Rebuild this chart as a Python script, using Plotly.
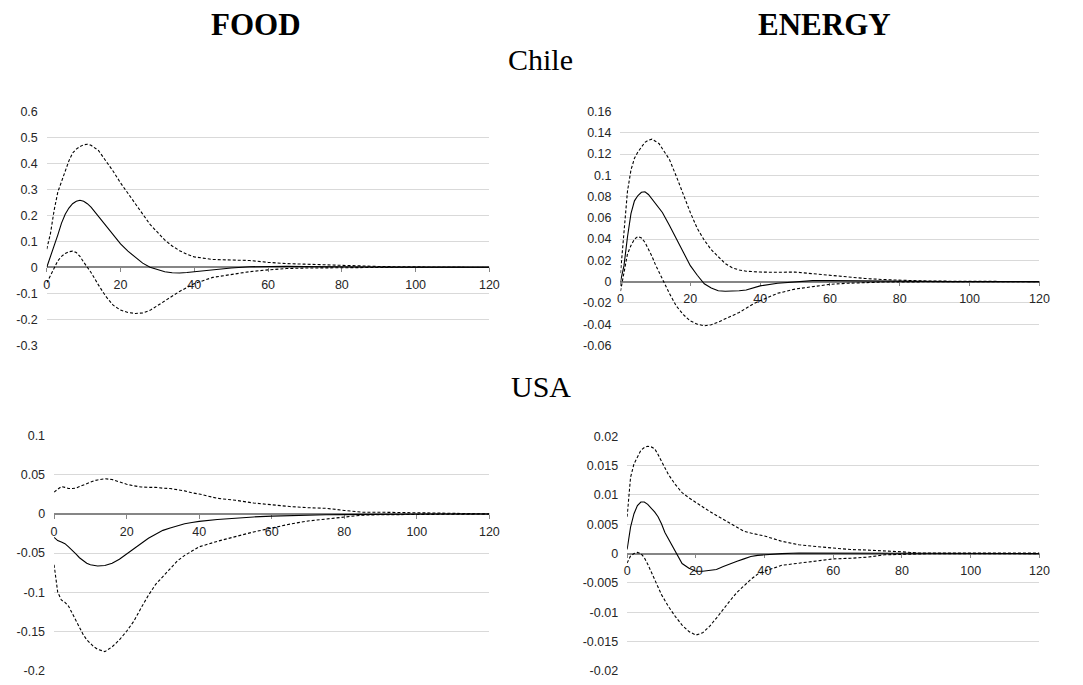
import plotly.graph_objects as go

# Horizon (periods after the shock)
periods = list(range(0, 13)) + list(range(14, 41, 2)) + list(range(45, 121, 5))

# Chile – food price shock: response, upper and lower bands
chile_food_mid = [0, 0.04, 0.084, 0.125, 0.17, 0.204, 0.228, 0.245, 0.254, 0.258, 0.254, 0.245, 0.232,
                  0.197, 0.16, 0.124, 0.09, 0.062, 0.038, 0.016, 0.0, -0.01, -0.017, -0.021, -0.022, -0.02, -0.017,
                  -0.01, -0.003, 0.002, 0.004, 0.004, 0.003, 0.002, 0.001, 0.0008, 0.0005, 0.0003, 0, 0, 0, 0, 0]
chile_food_hi = [0.07, 0.13, 0.22, 0.29, 0.33, 0.37, 0.41, 0.44, 0.455, 0.465, 0.472, 0.474, 0.47,
                 0.45, 0.41, 0.37, 0.325, 0.286, 0.245, 0.205, 0.165, 0.135, 0.105, 0.082, 0.064, 0.05, 0.04,
                 0.03, 0.028, 0.026, 0.019, 0.014, 0.012, 0.009, 0.007, 0.005, 0.003, 0.002, 0.001, 0.0008, 0.0005, 0.0002, 0]
chile_food_lo = [-0.06, -0.03, 0.0, 0.025, 0.042, 0.053, 0.06, 0.062, 0.057, 0.042, 0.02, 0.0, -0.02,
                 -0.068, -0.112, -0.146, -0.165, -0.174, -0.178, -0.176, -0.166, -0.148, -0.13, -0.11, -0.093, -0.078, -0.063,
                 -0.039, -0.028, -0.017, -0.01, -0.005, -0.003, -0.002, -0.001, -0.0005, 0, 0, 0, 0, 0, 0, 0]

# Chile – energy price shock
chile_energy_mid = [0, 0.015, 0.042, 0.064, 0.076, 0.081, 0.084, 0.0845, 0.082, 0.078, 0.074, 0.07, 0.065,
                    0.053, 0.04, 0.028, 0.015, 0.006, -0.002, -0.006, -0.0085, -0.009, -0.009, -0.0085, -0.0078, -0.006, -0.004,
                    -0.0015, 0.0, 0.001, 0.001, 0.0008, 0.0004, 0.0002, 0.0001, 0, 0, 0, 0, 0, 0, 0, 0]
chile_energy_hi = [0.008, 0.045, 0.085, 0.105, 0.116, 0.122, 0.127, 0.131, 0.133, 0.134, 0.132, 0.13, 0.125,
                   0.115, 0.099, 0.082, 0.065, 0.05, 0.039, 0.03, 0.023, 0.017, 0.013, 0.011, 0.0098, 0.0092, 0.009,
                   0.0088, 0.009, 0.0075, 0.0058, 0.0042, 0.003, 0.002, 0.0012, 0.0008, 0.0005, 0.0003, 0.0002, 0.0001, 0, 0, 0]
chile_energy_lo = [-0.009, 0.01, 0.026, 0.034, 0.04, 0.0425, 0.041, 0.037, 0.031, 0.024, 0.016, 0.009, 0.002,
                   -0.011, -0.023, -0.031, -0.037, -0.04, -0.0415, -0.0405, -0.038, -0.035, -0.032, -0.029, -0.025, -0.021, -0.018,
                   -0.011, -0.007, -0.005, -0.0025, -0.0015, -0.0008, -0.0004, -0.0002, -0.0001, 0, 0, 0, 0, 0, 0, 0]

# USA – food price shock
usa_food_mid = [-0.03, -0.034, -0.036, -0.038, -0.042, -0.046, -0.051, -0.056, -0.06, -0.063, -0.065, -0.066, -0.0665,
                -0.066, -0.063, -0.058, -0.051, -0.044, -0.037, -0.031, -0.026, -0.021, -0.018, -0.015, -0.0125, -0.011, -0.0095,
                -0.007, -0.005, -0.0038, -0.0028, -0.002, -0.0015, -0.001, -0.0008, -0.0005, -0.0004, -0.0003, -0.0002, -0.0001, 0, 0, 0]
usa_food_hi = [0.028, 0.031, 0.035, 0.034, 0.0325, 0.0325, 0.033, 0.035, 0.037, 0.039, 0.041, 0.0425, 0.0435,
               0.045, 0.044, 0.041, 0.038, 0.036, 0.0345, 0.034, 0.034, 0.033, 0.0325, 0.031, 0.0295, 0.027, 0.0255,
               0.02, 0.0175, 0.014, 0.0115, 0.0095, 0.008, 0.0072, 0.0045, 0.0022, 0.0022, 0.0022, 0.0015, 0.0012, 0.0009, 0.0005, 0.0]
usa_food_lo = [-0.065, -0.1, -0.11, -0.113, -0.118, -0.127, -0.137, -0.146, -0.154, -0.161, -0.166, -0.17, -0.173,
               -0.176, -0.17, -0.161, -0.15, -0.137, -0.12, -0.104, -0.09, -0.08, -0.069, -0.06, -0.053, -0.047, -0.042,
               -0.035, -0.029, -0.023, -0.018, -0.013, -0.009, -0.0065, -0.004, -0.0015, -0.001, -0.0008, -0.0005, -0.0003, -0.0002, -0.0001, 0]

# USA – energy price shock
usa_energy_mid = [0.0007, 0.0045, 0.0068, 0.0082, 0.0088, 0.0088, 0.0084, 0.0078, 0.0071, 0.0063, 0.0051, 0.0036, 0.0025,
                  0.0005, -0.0017, -0.0025, -0.003, -0.003, -0.0029, -0.0027, -0.0022, -0.0017, -0.0013, -0.0009, -0.0005, -0.0003, -0.0002,
                  0.0, 0.0001, 0.0001, 0.0, 0, 0, 0, 0, 0, 0, 0, 0, 0, 0, 0, 0]
usa_energy_hi = [0.0063, 0.013, 0.0153, 0.0166, 0.0176, 0.0181, 0.0183, 0.0182, 0.0179, 0.0169, 0.0157, 0.0145, 0.0135,
                 0.0118, 0.0104, 0.0095, 0.0087, 0.008, 0.0072, 0.0065, 0.0058, 0.0051, 0.0044, 0.0038, 0.0035, 0.0032, 0.003,
                 0.0021, 0.0015, 0.0012, 0.0009, 0.0007, 0.0006, 0.0005, 0.0003, 0.0001, 0.0001, 0.0001, 0.0001, 0.0001, 0.0001, 0.0001, 0.0001]
usa_energy_lo = [-0.0016, -0.0004, 0.0, 0.0002, 0.0, -0.0007, -0.0018, -0.0031, -0.0045, -0.0058, -0.007, -0.008, -0.009,
                 -0.0107, -0.0122, -0.0133, -0.0139, -0.0135, -0.0124, -0.011, -0.0094, -0.008, -0.0066, -0.0055, -0.0044, -0.0035, -0.003,
                 -0.002, -0.0016, -0.0013, -0.0009, -0.0008, -0.0006, -0.0002, -0.0001, 0, 0, 0, 0, 0, 0, 0, 0]

# Tick labels
x_ticks = [0, 20, 40, 60, 80, 100, 120]
chile_food_yticks = [-0.3, -0.2, -0.1, 0, 0.1, 0.2, 0.3, 0.4, 0.5, 0.6]
chile_food_ylabels = ["-0.3", "-0.2", "-0.1", "0", "0.1", "0.2", "0.3", "0.4", "0.5", "0.6"]
chile_energy_yticks = [-0.06, -0.04, -0.02, 0, 0.02, 0.04, 0.06, 0.08, 0.1, 0.12, 0.14, 0.16]
chile_energy_ylabels = ["-0.06", "-0.04", "-0.02", "0", "0.02", "0.04", "0.06", "0.08", "0.1", "0.12", "0.14", "0.16"]
usa_food_yticks = [-0.2, -0.15, -0.1, -0.05, 0, 0.05, 0.1]
usa_food_ylabels = ["-0.2", "-0.15", "-0.1", "-0.05", "0", "0.05", "0.1"]
usa_energy_yticks = [-0.02, -0.015, -0.01, -0.005, 0, 0.005, 0.01, 0.015, 0.02]
usa_energy_ylabels = ["-0.02", "-0.015", "-0.01", "-0.005", "0", "0.005", "0.01", "0.015", "0.02"]

W, H = 1083, 685
TICK_FONT = dict(family="Liberation Sans, Arial, sans-serif", size=12.5, color="#262626")

# panel layout in pixels: x-left, x-right, y-top, y-bottom, y-range
panels = [
    dict(mid=chile_food_mid, hi=chile_food_hi, lo=chile_food_lo,
         px=(44.3, 492.3), py=(106.7, 345.2), yr=(-0.3, 0.6),
         yt=chile_food_yticks, yl=chile_food_ylabels),
    dict(mid=chile_energy_mid, hi=chile_energy_hi, lo=chile_energy_lo,
         px=(625, 1049), py=(106.7, 345.5), yr=(-0.06, 0.16),
         yt=chile_energy_yticks, yl=chile_energy_ylabels),
    dict(mid=usa_food_mid, hi=usa_food_hi, lo=usa_food_lo,
         px=(51.7, 492.3), py=(437.7, 677.2), yr=(-0.2, 0.1),
         yt=usa_food_yticks, yl=usa_food_ylabels),
    dict(mid=usa_energy_mid, hi=usa_energy_hi, lo=usa_energy_lo,
         px=(631.7, 1049), py=(438.3, 677.7), yr=(-0.02, 0.02),
         yt=usa_energy_yticks, yl=usa_energy_ylabels),
]

fig = go.Figure()
layout = {}
for i, p in enumerate(panels, start=1):
    sx = "" if i == 1 else str(i)
    xa, ya = "x" + sx, "y" + sx
    dom_x = [p["px"][0] / W, p["px"][1] / W]
    dom_y = [1 - p["py"][1] / H, 1 - p["py"][0] / H]
    y0, y1 = p["yr"]
    zero_pos = dom_y[0] + (0 - y0) / (y1 - y0) * (dom_y[1] - dom_y[0])

    for series, dash in ((p["hi"], "3px,2px"), (p["lo"], "3px,2px"), (p["mid"], "solid")):
        fig.add_trace(go.Scatter(x=periods, y=series, mode="lines", xaxis=xa, yaxis=ya,
                                 line=dict(color="black", width=1.1, dash=dash),
                                 showlegend=False, hoverinfo="skip"))

    layout["xaxis" + sx] = dict(
        domain=dom_x, range=[0, 120], anchor="free", position=zero_pos,
        tickvals=x_ticks, ticktext=[str(v) for v in x_ticks],
        showgrid=False, zeroline=False, showline=True, linecolor="#868686", linewidth=1.5,
        ticks="outside", ticklen=4, tickcolor="#868686", tickwidth=1,
        tickfont=TICK_FONT, ticklabelstandoff=2, layer="below traces")
    layout["yaxis" + sx] = dict(
        domain=dom_y, range=list(p["yr"]), anchor=xa,
        tickvals=p["yt"], ticktext=p["yl"],
        showgrid=True, gridcolor="#d9d9d9", gridwidth=1, zeroline=False,
        showline=False, ticks="", tickfont=TICK_FONT, ticklabelstandoff=8)

title_font_bold = dict(family="Liberation Serif, Times New Roman, serif", size=31, color="black")
title_font = dict(family="Liberation Serif, Times New Roman, serif", size=30, color="black")
annotations = [
    dict(text="<b>FOOD</b>", x=256 / W, y=1 - 18 / H, font=title_font_bold),
    dict(text="<b>ENERGY</b>", x=831 / W, y=1 - 18 / H, font=title_font_bold),
    dict(text="Chile", x=544 / W, y=1 - 54 / H, font=title_font),
    dict(text="USA", x=545 / W, y=1 - 387 / H, font=title_font),
]
for a in annotations:
    a.update(xref="paper", yref="paper", xanchor="center", yanchor="middle", showarrow=False)

fig.update_layout(width=W, height=H, margin=dict(l=0, r=0, t=0, b=0),
                  paper_bgcolor="white", plot_bgcolor="white",
                  annotations=annotations, **layout)

fig.write_html("out.html")
